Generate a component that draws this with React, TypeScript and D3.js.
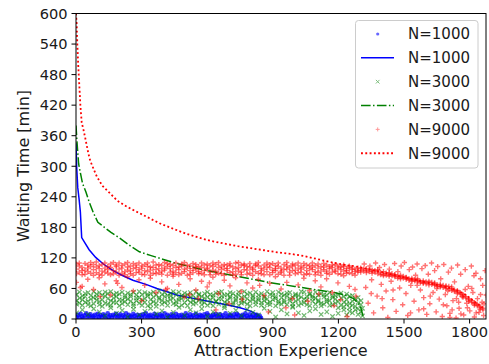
import * as d3 from "d3";
import React from "react";

type Pt = [number, number];

// mean waiting time curves (Attraction Experience, minutes)
const line1000: Pt[] = [
  [0, 345], [3, 300], [8, 258], [14, 236], [20, 210], [26, 160], [40, 150], [60, 136],
  [90, 121], [125, 108], [170, 95], [210, 86], [260, 76], [320, 68], [370, 60], [420, 53],
  [460, 47], [520, 42], [580, 37], [640, 32], [700, 27], [750, 22], [790, 17], [820, 11],
  [840, 5], [852, 0],
];
const line3000: Pt[] = [
  [0, 380], [5, 345], [12, 305], [20, 287], [30, 266], [45, 250], [60, 230], [80, 208],
  [100, 190], [130, 180], [160, 170], [200, 159], [250, 143], [290, 132], [340, 125],
  [400, 117], [460, 109], [520, 103], [580, 97], [640, 92], [700, 87], [760, 82], [820, 77],
  [880, 72], [940, 68], [1000, 64], [1060, 60], [1120, 56], [1180, 52], [1230, 47],
  [1270, 40], [1300, 26], [1315, 2],
];
const line9000: Pt[] = [
  [0, 600], [3, 580], [6, 540], [10, 500], [15, 460], [20, 420], [26, 386], [35, 370],
  [45, 350], [56, 326], [65, 311], [80, 295], [95, 280], [120, 262], [155, 247], [190, 232],
  [231, 221], [280, 210], [322, 201], [382, 188], [440, 178], [500, 168], [560, 160],
  [620, 153], [680, 148], [740, 143], [800, 139], [860, 135], [920, 131], [980, 128],
  [1040, 124], [1100, 118], [1160, 112], [1220, 107], [1280, 103], [1340, 98], [1400, 92],
  [1460, 86], [1520, 80], [1580, 74], [1640, 68], [1700, 62], [1740, 57], [1780, 48],
  [1820, 35], [1860, 22],
];

// individual visitors, N=1000
const dots1000: Pt[] = [
  [2,4],[9,8],[15,2],[21,10],[28,5],[33,1],[40,7],[47,11],[53,3],[60,6],[66,9],[74,2],[79,5],
  [86,8],[93,1],[99,10],[105,4],[112,7],[118,3],[125,9],[131,6],[138,1],[145,11],[150,4],
  [157,7],[163,2],[170,8],[177,5],[183,10],[190,3],[196,6],[203,9],[209,1],[216,7],[223,4],
  [229,11],[236,2],[242,8],[249,5],[255,3],[262,10],[268,6],[275,1],[281,8],[288,4],[294,7],
  [301,2],[307,9],[314,5],[320,11],[327,3],[333,6],[340,8],[346,1],[353,5],[359,10],[366,3],
  [372,7],[379,2],[385,9],[392,6],[398,4],[405,11],[411,1],[418,8],[424,5],[431,3],[437,9],
  [444,6],[450,2],[457,10],[463,4],[470,7],[476,1],[483,8],[489,5],[496,3],[502,11],[509,6],
  [515,2],[522,9],[528,4],[535,7],[541,1],[548,10],[554,5],[561,3],[567,8],[574,6],[580,2],
  [587,9],[593,4],[600,11],[606,7],[613,1],[619,5],[626,8],[632,3],[639,10],[645,6],[652,2],
  [658,9],[665,4],[671,7],[678,1],[684,11],[691,5],[697,3],[704,8],[710,6],[717,2],[723,9],
  [730,4],[736,10],[743,7],[749,1],[756,5],[762,8],[769,3],[775,11],[782,6],[788,2],[795,9],
  [801,4],[808,7],[814,1],[821,5],[827,8],[834,3],[840,6],[846,2],
];

// N=3000: [x, ...waiting times]
const cols3000: number[][] = [
  [3,48,36,29,12],[16,41,53,31],[29,27,45,38,18],[42,50,33,44],[55,35,28,52,9],[68,46,39,26],
  [81,30,54,42,20],[94,43,37,49],[107,52,28,34,14],[120,38,47,25],[133,45,31,53,6],[146,29,50,40],
  [159,54,36,27,22],[172,41,48,33],[185,32,44,51,11],[198,49,26,38],[211,37,53,30,17],[224,46,34,42],
  [237,28,51,39,4],[250,44,35,48],[263,53,30,26,19],[276,36,47,41],[289,31,42,54,8],[302,48,27,37],
  [315,40,52,33,15],[328,26,45,49],[341,50,38,29,21],[354,34,43,53],[367,47,31,25,10],[380,39,55,42],
  [393,29,36,48,16],[406,52,44,33],[419,35,27,46,3],[432,45,50,38],[445,30,41,54,13],[458,49,34,28],
  [471,42,53,37,23],[484,27,46,40],[497,51,32,44,7],[510,38,48,26],[523,33,43,52,18],[536,46,29,36],
  [549,54,40,31,12],[562,37,47,49],[575,28,44,35,20],[588,50,32,41],[601,43,53,27,5],[614,31,38,48],
  [627,47,26,42,14],[640,35,51,34],[653,52,40,29,9],[666,39,45,54],[679,26,33,47,22],[692,48,37,30],
  [705,41,52,44,11],[718,32,28,50],[731,45,39,36,17],[744,53,47,27],[757,36,31,42,6],[770,44,54,33],
  [783,29,40,49,19],[796,51,35,26],[809,38,46,43,13],[822,34,28,53],[835,47,41,37,8],[848,27,50,32],
  [861,42,36,45,21],[874,54,30,39],[887,33,48,28,15],[900,46,38,52],[913,40,26,44,4],[926,31,53,35],
  [939,49,42,29,18],[952,37,33,47],[965,28,45,51,10],[978,52,36,40],[991,43,30,25,23],[1004,35,49,46],
  [1017,46,27,38,12],[1030,30,54,43],[1043,53,39,32,7],[1056,38,44,28],[1069,26,48,50,16],[1082,45,35,41],
  [1095,41,29,53,20],[1108,34,47,37],[1121,50,31,26,9],[1134,29,43,48],[1147,47,38,34,14],[1160,36,52,27],
  [1173,42,28,45,5],[1186,31,46,39],[1199,48,34,22,11],[1212,27,41,51],[1225,44,33,18,24],[1238,38,49,29,8],
  [1251,30,22,45,15],[1264,46,35,12,27],[1277,25,40,18],[1290,33,20,9,42],[1303,28,14,36],[1310,21,6],
];

// N=9000: [x, ...waiting times]
const cols9000: number[][] = [
  [2,98,108,89,72],[15,104,92,110],[28,87,101,95,64],[41,109,96,88],[54,93,106,100,78],[67,111,90,103],
  [80,97,86,107,58],[93,102,112,91],[106,88,99,105,81],[119,107,94,86],[132,100,110,92,69],[145,90,103,97],
  [158,108,87,101,47],[171,95,111,89],[184,103,92,106,75],[197,86,98,110],[210,105,100,90,62],[223,93,108,87],
  [236,111,96,102,83],[249,89,104,94],[262,99,86,109,55],[275,106,101,91],[288,92,110,97,77],[301,104,88,100],
  [314,87,107,95,66],[327,110,93,103],[340,96,102,86,80],[353,101,112,90],[366,89,97,106,52],[379,107,91,99],
  [392,94,105,88,73],[405,111,100,96],[418,86,103,109,60],[431,99,92,107],[444,105,88,94,84],[457,91,110,101],
  [470,102,97,87,68],[483,108,90,104],[496,93,111,98,43],[509,100,86,106],[522,88,104,95,79],[535,109,99,91],
  [548,96,107,102,57],[561,103,89,93],[574,90,101,110,74],[587,106,95,87],[600,98,108,100,63],[613,87,92,105],
  [626,110,103,96,82],[639,94,88,107],[652,101,111,90,50],[665,89,97,104],[678,107,100,86,76],[691,95,106,99],
  [704,104,91,109,65],[717,86,102,93],[730,99,110,88,81],[743,111,94,101],[756,92,87,106,54],[769,105,108,97],
  [782,88,96,103,71],[795,102,109,90],[808,97,86,100,61],[821,108,93,105],[834,90,104,111,78],[847,100,89,95],
  [860,106,98,87,46],[873,93,110,102],[886,87,101,107,70],[899,109,96,91],[912,95,105,99,83],[925,103,88,110],
  [938,91,100,94,59],[951,107,97,86],[964,98,111,104,72],[977,86,92,101],[990,104,108,95,40],[1003,96,89,106],
  [1016,110,100,91,67],[1029,92,104,98],[1042,101,87,109,80],[1055,89,106,95],[1068,105,99,88,56],[1081,97,110,102],
  [1094,87,93,105,75],[1107,108,100,91],[1120,94,103,86,63],[1133,102,97,109],[1146,90,106,94,79],[1159,99,88,103],
  [1172,106,101,92,52],[1185,93,96,107],[1198,100,89,104,71],[1211,88,102,97],[1224,103,94,106,85],[1237,95,99,90],
  [1250,101,91,104,64],[1263,89,97,100],[1276,98,93,86,58],[1289,92,100,95],
  [1302,96,100,92],[1315,98,94],[1328,95,99,91],[1341,93,97],[1354,96,90,94],[1367,92,95],[1380,89,94,97],
  [1393,91,87],[1406,88,93,85],[1419,90,86],[1432,87,84,91],[1445,85,89],[1458,83,87,86],[1471,84,80],
  [1484,82,86,79],[1497,80,84],[1510,78,82,81],[1523,79,76],[1536,77,80,74],[1549,75,78],[1562,76,73,79],
  [1575,74,71],[1588,72,75,70],[1601,73,69],[1614,71,67,74],[1627,68,72],[1640,69,66,71],[1653,67,64],
  [1666,65,68,63],[1679,66,62],[1692,63,65,60],[1705,64,59],[1718,60,56,63],[1731,57,54],[1744,53,50,56],
  [1757,49,52],[1770,46,43,48],[1783,41,44],[1796,38,35,40],[1809,33,36],[1822,30,27,32],[1835,26,29],
  [1848,22,25,19],[1861,18,21],
];
const spread9000: Pt[] = [
  [1318,108],[1325,62],[1336,31],[1344,104],[1352,77],[1361,12],[1370,110],[1377,45],[1388,101],[1396,68],
  [1403,22],[1411,107],[1418,55],[1426,3],[1433,98],[1441,74],[1449,38],[1457,109],[1464,15],[1472,93],
  [1480,61],[1487,104],[1494,28],[1502,111],[1509,50],[1517,7],[1524,97],[1531,66],[1539,102],[1546,35],
  [1553,86],[1560,108],[1568,18],[1575,57],[1582,99],[1590,42],[1597,105],[1604,9],[1611,88],[1618,30],
  [1626,110],[1633,52],[1640,95],[1647,14],[1654,103],[1661,39],[1668,79],[1675,5],[1682,107],[1689,48],
  [1696,26],[1703,92],[1710,11],[1717,100],[1724,36],[1731,73],[1738,2],[1745,106],[1752,21],[1759,88],
  [1766,44],[1773,8],[1780,97],[1787,31],[1794,64],[1801,16],[1808,104],[1815,52],[1822,4],[1829,90],
  [1836,40],[1843,13],[1850,79],[1857,33],[1864,7],[1871,95],[1876,47],[1680,28],[1700,55],[1720,18],
  [1740,40],[1760,10],[1790,22],[1810,60],[1830,12],[1850,48],[1866,30],[1710,3],[1750,33],[1780,58],
  [1820,85],[1860,66],[1650,60],[1620,45],[1590,20],[1560,66],[1530,12],[1450,57],[1400,40],[1350,50],
  [640,18],[700,30],[960,22],[1000,8],[1060,35],[1180,26],[1240,5],[560,40],[1280,45],[880,14],
  [20,62],[110,44],[190,70],[300,36],[410,58],[520,48],[610,71],[760,39],[840,66],[1110,49],[1210,38],
];

const xTicks = [0, 300, 600, 900, 1200, 1500, 1800];
const yTicks = [0, 60, 120, 180, 240, 300, 360, 420, 480, 540, 600];
const legendLabels = ["N=1000", "N=1000", "N=3000", "N=3000", "N=9000", "N=9000"];

const expand = (cols: number[][]): Pt[] =>
  cols.flatMap(([x, ...ys]) => ys.map((y) => [x, y] as Pt));

export default function App() {
  const W = 489, H = 364;
  const L = 76, R = 486, T = 13.5, B = 319;
  const x = d3.scaleLinear().domain([0, 1875]).range([L, R]);
  const y = d3.scaleLinear().domain([0, 600]).range([B, T]);
  const line = d3.line<Pt>().x((d) => x(d[0])).y((d) => y(d[1]));
  const font = "DejaVu Sans, sans-serif";

  const pts3000 = expand(cols3000);
  const pts9000 = [...expand(cols9000), ...spread9000];

  const cross = (cx: number, cy: number, s: number) =>
    `M${cx - s},${cy - s}L${cx + s},${cy + s}M${cx - s},${cy + s}L${cx + s},${cy - s}`;
  const plus = (cx: number, cy: number, s: number) =>
    `M${cx - s},${cy}L${cx + s},${cy}M${cx},${cy - s}L${cx},${cy + s}`;

  const legendY = (i: number) => 34 + i * 23.85;

  return (
    <svg width={W} height={H} style={{ position: "absolute", left: 0, top: 0 }} fontFamily={font}>
      <rect width={W} height={H} fill="#fff" />
      <defs>
        <clipPath id="plot">
          <rect x={L} y={T} width={R - L} height={B - T} />
        </clipPath>
      </defs>
      <g clipPath="url(#plot)">
        {dots1000.map((d, i) => (
          <circle key={"b" + i} cx={x(d[0])} cy={y(d[1])} r={2.4} fill="#0000ff" opacity={0.75} />
        ))}
        <path d={line(line1000) || ""} fill="none" stroke="#0000ff" strokeWidth={1.5} />
        {pts3000.map((d, i) => (
          <path key={"g" + i} d={cross(x(d[0]), y(d[1]), 2.2)} stroke="#008000" strokeWidth={1.2} opacity={0.55} />
        ))}
        <path
          d={line(line3000) || ""}
          fill="none"
          stroke="#008000"
          strokeWidth={1.5}
          strokeDasharray="9.6 2.4 1.5 2.4"
        />
        {pts9000.map((d, i) => (
          <path key={"r" + i} d={plus(x(d[0]), y(d[1]), 2.6)} stroke="#ff0000" strokeWidth={1.4} opacity={0.55} />
        ))}
        <path
          d={line(line9000) || ""}
          fill="none"
          stroke="#ff0000"
          strokeWidth={1.8}
          strokeDasharray="1.9 2.4"
        />
      </g>

      <rect x={L} y={T} width={R - L} height={B - T} fill="none" stroke="#000" strokeWidth={1} />

      {xTicks.map((t) => (
        <g key={"x" + t}>
          <line x1={x(t)} x2={x(t)} y1={B} y2={B + 4.5} stroke="#000" />
          <text x={x(t)} y={336.5} textAnchor="middle" fontSize={14.6} fill="#1a1a1a">
            {t}
          </text>
        </g>
      ))}
      {yTicks.map((t) => (
        <g key={"y" + t}>
          <line x1={L - 4.5} x2={L} y1={y(t)} y2={y(t)} stroke="#000" />
          <text x={67.5} y={y(t)} dy="0.36em" textAnchor="end" fontSize={14.6} fill="#1a1a1a">
            {t}
          </text>
        </g>
      ))}
      <text x={281} y={356} textAnchor="middle" fontSize={16} fill="#1a1a1a">
        Attraction Experience
      </text>
      <text
        transform={`translate(29,166) rotate(-90)`}
        textAnchor="middle"
        fontSize={16}
        fill="#1a1a1a"
      >
        Waiting Time [min]
      </text>

      <rect x={355.5} y={20.5} width={122.5} height={147.5} rx={3} fill="#fff" fillOpacity={0.8} stroke="#cccccc" />
      {legendLabels.map((lab, i) => {
        const ly = legendY(i);
        let handle: React.ReactNode = null;
        if (i === 0) handle = <circle cx={377.7} cy={ly} r={1.6} fill="#0000ff" opacity={0.6} />;
        if (i === 1) handle = <line x1={361} x2={394} y1={ly} y2={ly} stroke="#0000ff" strokeWidth={1.5} />;
        if (i === 2) handle = <path d={cross(377.7, ly, 1.8)} stroke="#008000" opacity={0.5} />;
        if (i === 3)
          handle = (
            <line x1={361} x2={394} y1={ly} y2={ly} stroke="#008000" strokeWidth={1.5} strokeDasharray="9.6 2.4 1.5 2.4" />
          );
        if (i === 4) handle = <path d={plus(377.7, ly, 2)} stroke="#ff0000" opacity={0.4} />;
        if (i === 5)
          handle = <line x1={361} x2={394} y1={ly} y2={ly} stroke="#ff0000" strokeWidth={1.8} strokeDasharray="1.9 2.4" />;
        return (
          <g key={"l" + i}>
            {handle}
            <text x={408} y={ly} dy="0.36em" fontSize={15} fill="#1a1a1a">
              {lab}
            </text>
          </g>
        );
      })}
    </svg>
  );
}
